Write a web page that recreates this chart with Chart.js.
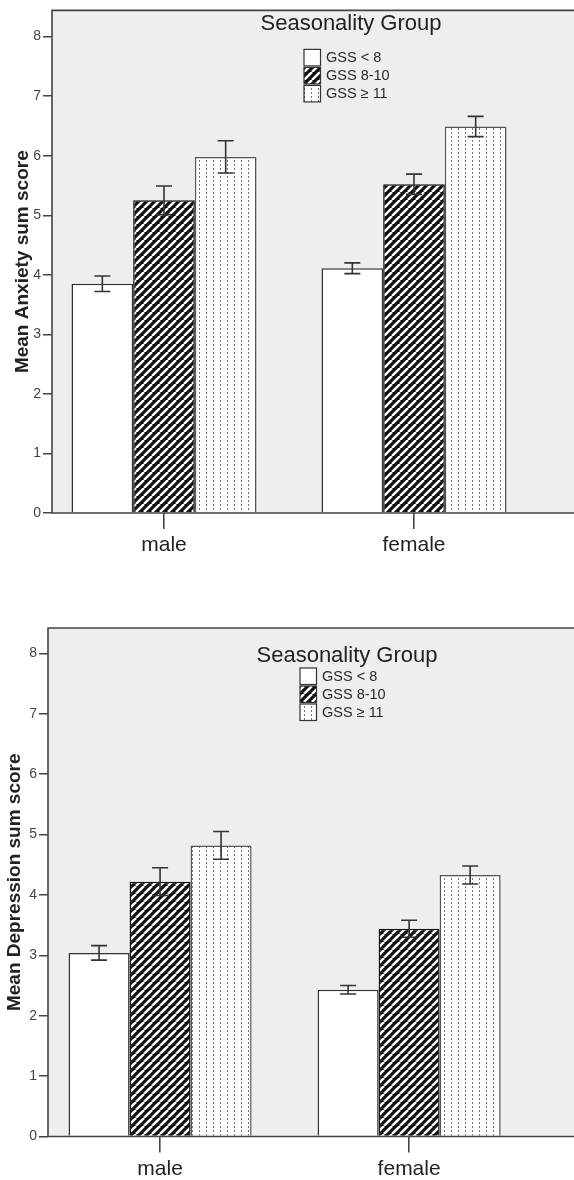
<!DOCTYPE html>
<html>
<head>
<meta charset="utf-8">
<title>Seasonality Group</title>
<script src="https://cdn.jsdelivr.net/npm/chart.js@4.4.1/dist/chart.umd.min.js"></script>
<style>
  html, body { margin: 0; padding: 0; background: #fff; }
  #wrap { position: relative; width: 574px; height: 1180px; overflow: hidden; }
  canvas { position: absolute; left: 0; }
  #anxietyChart { top: 0; }
  #depressionChart { top: 590px; }
</style>
</head>
<body>
<div id="wrap">
  <canvas id="anxietyChart" width="574" height="590"></canvas>
  <canvas id="depressionChart" width="574" height="590"></canvas>
</div>
<script>
// Chart data
const categories = ['male', 'female'];
const groupLabels = ['GSS < 8', 'GSS 8-10', 'GSS \u2265 11'];
const yTicks = [0, 1, 2, 3, 4, 5, 6, 7, 8];

// Anxiety means and error bar half-widths (per seasonality group)
const anxietyLow = [3.85, 4.11];
const anxietyMid = [5.25, 5.52];
const anxietyHigh = [5.98, 6.49];
const anxietyLowErr = [0.13, 0.09];
const anxietyMidErr = [0.24, 0.17];
const anxietyHighErr = [0.27, 0.17];

// Depression means and error bar half-widths
const depressionLow = [3.04, 2.43];
const depressionMid = [4.22, 3.44];
const depressionHigh = [4.82, 4.33];
const depressionLowErr = [0.12, 0.07];
const depressionMidErr = [0.23, 0.14];
const depressionHighErr = [0.23, 0.15];

const FONT = '"Liberation Sans", Arial, sans-serif';

// Fill patterns
function hatchPattern() {
    const c = document.createElement('canvas');
    c.width = 8; c.height = 8;
    const g = c.getContext('2d');
    g.fillStyle = '#111';
    g.fillRect(0, 0, 8, 8);
    g.strokeStyle = '#fff';
    g.lineWidth = 2.5;
    g.beginPath();
    [-8, 0, 8].forEach(o => { g.moveTo(o, 8); g.lineTo(o + 8, 0); });
    g.stroke();
    return g.createPattern(c, 'repeat');
}

function dotPattern() {
    const c = document.createElement('canvas');
    c.width = 7; c.height = 4;
    const g = c.getContext('2d');
    g.fillStyle = '#fff';
    g.fillRect(0, 0, 7, 4);
    g.fillStyle = '#777';
    g.fillRect(3, 0, 1, 2);
    return g.createPattern(c, 'repeat');
}

const fills = ['#ffffff', hatchPattern(), dotPattern()];
const borders = ['#333', '#111', '#555'];

// Plot background and frame
const framePlugin = {
    id: 'frame',
    beforeDraw(chart) {
        const { ctx, chartArea: a } = chart;
        ctx.save();
        ctx.fillStyle = '#eeeeee';
        ctx.fillRect(a.left, a.top, a.right - a.left, a.bottom - a.top);
        ctx.restore();
    },
    afterDatasetsDraw(chart) {
        const { ctx, chartArea: a } = chart;
        ctx.save();
        ctx.strokeStyle = '#444';
        ctx.lineWidth = 1.6;
        ctx.beginPath();
        ctx.moveTo(a.right + 2, a.top);
        ctx.lineTo(a.left, a.top);
        ctx.lineTo(a.left, a.bottom);
        ctx.lineTo(a.right + 2, a.bottom);
        ctx.stroke();
        ctx.restore();
    }
};

// Error bars
const errorBarPlugin = {
    id: 'errorBars',
    afterDatasetsDraw(chart) {
        const { ctx } = chart;
        const y = chart.scales.y;
        ctx.save();
        ctx.strokeStyle = '#333';
        ctx.lineWidth = 1.6;
        chart.data.datasets.forEach((ds, i) => {
            chart.getDatasetMeta(i).data.forEach((bar, j) => {
                const v = ds.data[j].y;
                const e = ds.errors[j];
                const top = y.getPixelForValue(v + e);
                const bot = y.getPixelForValue(v - e);
                ctx.beginPath();
                ctx.moveTo(bar.x, top); ctx.lineTo(bar.x, bot);
                ctx.moveTo(bar.x - 8, top); ctx.lineTo(bar.x + 8, top);
                ctx.moveTo(bar.x - 8, bot); ctx.lineTo(bar.x + 8, bot);
                ctx.stroke();
            });
        });
        ctx.restore();
    }
};

// Legend inside the plot
const legendPlugin = {
    id: 'groupLegend',
    afterDraw(chart, args, opts) {
        const { ctx, chartArea: a } = chart;
        ctx.save();
        ctx.fillStyle = '#222';
        ctx.textBaseline = 'middle';
        ctx.textAlign = 'center';
        ctx.font = '22px ' + FONT;
        ctx.fillText(opts.title, a.left + opts.titleDx, a.top + opts.titleDy);
        ctx.textAlign = 'left';
        ctx.font = '14.5px ' + FONT;
        chart.data.datasets.forEach((ds, i) => {
            const bx = a.left + opts.boxDx;
            const cy = a.top + opts.rowDy + i * opts.rowGap;
            ctx.fillStyle = ds.backgroundColor;
            ctx.fillRect(bx, cy - 8, 16.5, 16.5);
            ctx.strokeStyle = '#333';
            ctx.lineWidth = 1.2;
            ctx.strokeRect(bx, cy - 8, 16.5, 16.5);
            ctx.fillStyle = '#2a2a2a';
            ctx.fillText(ds.label, bx + 22, cy + 1);
        });
        ctx.restore();
    }
};

function buildChart(id, series, errors, s) {
    return new Chart(document.getElementById(id), {
        type: 'bar',
        data: {
            datasets: groupLabels.map((label, i) => ({
                label: label,
                data: series[i].map((v, j) => ({ x: j, y: v })),
                errors: errors[i],
                backgroundColor: fills[i],
                borderColor: borders[i],
                borderWidth: 1.5,
                categoryPercentage: s.catPct,
                barPercentage: 1
            }))
        },
        options: {
            responsive: false,
            animation: false,
            devicePixelRatio: 1,
            layout: { padding: { top: s.padTop, left: 0, right: 0, bottom: 0 } },
            plugins: {
                legend: { display: false },
                tooltip: { enabled: false },
                groupLegend: {
                    title: 'Seasonality Group',
                    titleDx: 299, titleDy: s.titleDy,
                    boxDx: 252, rowDy: s.rowDy, rowGap: 18
                }
            },
            scales: {
                x: {
                    type: 'linear',
                    min: s.xMin,
                    max: s.xMax,
                    offset: false,
                    afterBuildTicks: sc => { sc.ticks = categories.map((c, i) => ({ value: i })); },
                    afterFit: sc => { sc.height = s.xHeight; },
                    border: { display: false },
                    grid: { offset: false, drawOnChartArea: false, tickLength: 16, color: '#444', lineWidth: 1.6 },
                    ticks: {
                        callback: v => categories[v],
                        font: { family: FONT, size: 21 },
                        color: '#222',
                        padding: 4,
                        maxRotation: 0,
                        autoSkip: false
                    }
                },
                y: {
                    min: 0,
                    max: s.yMax,
                    afterBuildTicks: sc => { sc.ticks = yTicks.map(v => ({ value: v })); },
                    afterFit: sc => { sc.width = s.yWidth; },
                    border: { display: false },
                    grid: { drawOnChartArea: false, tickLength: 9, color: '#444', lineWidth: 1.5 },
                    ticks: { font: { family: FONT, size: 14 }, color: '#444', padding: 2 },
                    title: {
                        display: true,
                        text: s.yTitle,
                        font: { family: FONT, size: s.titleSize, weight: 'bold' },
                        color: '#222',
                        padding: { top: s.titlePad, bottom: 0 }
                    }
                }
            }
        },
        plugins: [framePlugin, errorBarPlugin, legendPlugin]
    });
}

// Anxiety chart
buildChart('anxietyChart',
    [anxietyLow, anxietyMid, anxietyHigh],
    [anxietyLowErr, anxietyMidErr, anxietyHighErr],
    {
        yTitle: 'Mean Anxiety sum score', titleSize: 19, titlePad: 11,
        padTop: 5, yWidth: 52, xHeight: 77, yMax: 8.44,
        xMin: -0.448, xMax: 1.64, catPct: 0.74, titleDy: 14, rowDy: 47
    });

// Depression chart
buildChart('depressionChart',
    [depressionLow, depressionMid, depressionHigh],
    [depressionLowErr, depressionMidErr, depressionHighErr],
    {
        yTitle: 'Mean Depression sum score', titleSize: 19, titlePad: 3,
        padTop: 38, yWidth: 48, xHeight: 43.5, yMax: 8.42,
        xMin: -0.45, xMax: 1.662, catPct: 0.735, titleDy: 28, rowDy: 48
    });
</script>
</body>
</html>
